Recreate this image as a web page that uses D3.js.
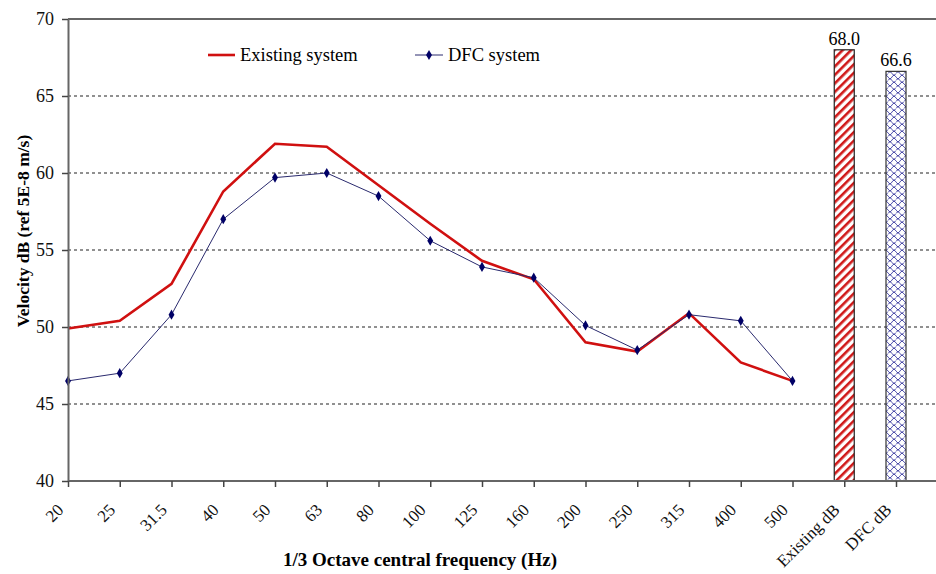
<!DOCTYPE html>
<html>
<head>
<meta charset="utf-8">
<script src="https://cdn.jsdelivr.net/npm/d3@7"></script>
<style>
  body { margin: 0; background: #fff; }
  text { font-family: "Liberation Serif", "Times New Roman", serif; }
</style>
</head>
<body>
<div id="chart"></div>
<script>
// categories along x (last two hold the overall bars)
var categories = ["20", "25", "31.5", "40", "50", "63", "80", "100", "125", "160", "200", "250", "315", "400", "500", "Existing dB", "DFC dB"];
var freqs = categories.slice(0, 15);
var existing = [49.9, 50.4, 52.8, 58.8, 61.9, 61.7, 59.2, 56.7, 54.3, 53.1, 49.0, 48.4, 50.9, 47.7, 46.5];
var dfc = [46.5, 47.0, 50.8, 57.0, 59.7, 60.0, 58.5, 55.6, 53.9, 53.2, 50.1, 48.5, 50.8, 50.4, 46.5];
var totalNames = ["Existing dB", "DFC dB"];
var totalValues = [68.0, 66.6];
var yTicks = [40, 45, 50, 55, 60, 65, 70];

var W = 936, H = 574;
var margin = { top: 19, right: 0, bottom: 93, left: 68 };

var svg = d3.select("#chart").append("svg")
  .attr("width", W)
  .attr("height", H);

// patterns for the two bars
var defs = svg.append("defs");
var hatch = defs.append("pattern")
  .attr("id", "hatchRed")
  .attr("patternUnits", "userSpaceOnUse")
  .attr("width", 6).attr("height", 6)
  .attr("patternTransform", "rotate(45)");
hatch.append("rect").attr("width", 6).attr("height", 6).attr("fill", "#fff");
hatch.append("rect").attr("x", 0).attr("width", 2.6).attr("height", 6).attr("fill", "#d01818");

var scales = defs.append("pattern")
  .attr("id", "scaleBlue")
  .attr("patternUnits", "userSpaceOnUse")
  .attr("width", 8).attr("height", 7);
scales.append("rect").attr("width", 8).attr("height", 7).attr("fill", "#fff");
scales.append("path")
  .attr("d", "M0,3.5 Q2,0 4,3.5 Q6,7 8,3.5 M-4,7 Q-2,3.5 0,7 M0,0 Q2,3.5 4,0 M4,7 Q6,3.5 8,7")
  .attr("fill", "none")
  .attr("stroke", "#3a3aa0")
  .attr("stroke-width", 0.9);

var x = d3.scalePoint()
  .domain(categories)
  .range([margin.left, 896]);

var y = d3.scaleLinear()
  .domain([40, 70])
  .range([H - margin.bottom, margin.top]);

// dotted gridlines
svg.append("g")
  .selectAll("line")
  .data(yTicks.filter(function (d) { return d > 40 && d < 70; }))
  .enter().append("line")
  .attr("x1", margin.left).attr("x2", W)
  .attr("y1", function (d) { return y(d); })
  .attr("y2", function (d) { return y(d); })
  .attr("stroke", "#222")
  .attr("stroke-width", 1.2)
  .attr("stroke-dasharray", "3,3");

// top border
svg.append("line")
  .attr("x1", margin.left).attr("x2", W)
  .attr("y1", y(70)).attr("y2", y(70))
  .attr("stroke", "#666").attr("stroke-width", 2);

// bars for the overall levels
var barW = 20;
svg.selectAll(".bar")
  .data(totalValues)
  .enter().append("rect")
  .attr("class", "bar")
  .attr("x", function (d, i) { return x(totalNames[i]) - barW / 2; })
  .attr("y", function (d) { return y(d); })
  .attr("width", barW)
  .attr("height", function (d) { return y(40) - y(d); })
  .attr("fill", function (d, i) { return i === 0 ? "url(#hatchRed)" : "url(#scaleBlue)"; })
  .attr("stroke", function (d, i) { return i === 0 ? "#222" : "#333"; })
  .attr("stroke-width", 1.2);

svg.selectAll(".barlabel")
  .data(totalValues)
  .enter().append("text")
  .attr("class", "barlabel")
  .attr("x", function (d, i) { return x(totalNames[i]); })
  .attr("y", function (d) { return y(d) - 5; })
  .attr("text-anchor", "middle")
  .attr("font-size", 18)
  .text(function (d) { return d.toFixed(1); });

// lines
var line = d3.line()
  .x(function (d, i) { return x(freqs[i]); })
  .y(function (d) { return y(d); });

svg.append("path")
  .datum(existing)
  .attr("d", line)
  .attr("fill", "none")
  .attr("stroke", "#d01010")
  .attr("stroke-width", 2.6);

svg.append("path")
  .datum(dfc)
  .attr("d", line)
  .attr("fill", "none")
  .attr("stroke", "#2a2a6e")
  .attr("stroke-width", 1);

var diamond = d3.symbol().type(d3.symbolDiamond).size(30);
svg.selectAll(".pt")
  .data(dfc)
  .enter().append("path")
  .attr("class", "pt")
  .attr("d", diamond)
  .attr("transform", function (d, i) { return "translate(" + x(freqs[i]) + "," + y(d) + ")"; })
  .attr("fill", "#000066");

// y axis
var yAxis = svg.append("g")
  .attr("transform", "translate(" + margin.left + ",0)")
  .call(d3.axisLeft(y).tickValues(yTicks).tickSize(6).tickSizeOuter(0).tickPadding(8));
yAxis.select(".domain").attr("stroke", "#666").attr("stroke-width", 2);
yAxis.selectAll(".tick line").attr("stroke", "#444").attr("stroke-width", 1.5);
yAxis.selectAll("text")
  .attr("font-size", 18)
  .attr("font-family", "Liberation Serif, serif")
  .attr("fill", "#111");

// x axis
var xAxis = svg.append("g")
  .attr("transform", "translate(0," + y(40) + ")")
  .call(d3.axisBottom(x).tickSize(6).tickSizeOuter(0));
xAxis.select(".domain").attr("d", "M" + margin.left + ",0H" + W).attr("stroke", "#666").attr("stroke-width", 2);
xAxis.selectAll(".tick line").attr("stroke", "#444").attr("stroke-width", 1.5);
xAxis.selectAll("text")
  .attr("font-size", 17)
  .attr("font-family", "Liberation Serif, serif")
  .attr("fill", "#111")
  .attr("text-anchor", "end")
  .attr("y", 0).attr("dy", 0)
  .attr("transform", "translate(-4,30) rotate(-45)");

// axis titles
svg.append("text")
  .attr("transform", "translate(29,231) rotate(-90)")
  .attr("text-anchor", "middle")
  .attr("font-size", 17.5)
  .attr("font-weight", "bold")
  .text("Velocity dB (ref 5E-8 m/s)");

svg.append("text")
  .attr("x", 420)
  .attr("y", 566)
  .attr("text-anchor", "middle")
  .attr("font-size", 19)
  .attr("font-weight", "bold")
  .text("1/3 Octave central frequency (Hz)");

// legend
var legend = svg.append("g");
legend.append("line")
  .attr("x1", 208).attr("x2", 235).attr("y1", 55).attr("y2", 55)
  .attr("stroke", "#d01010").attr("stroke-width", 2.6);
legend.append("text")
  .attr("x", 240).attr("y", 61)
  .attr("font-size", 18.5)
  .text("Existing system");
legend.append("line")
  .attr("x1", 415).attr("x2", 443).attr("y1", 55).attr("y2", 55)
  .attr("stroke", "#2a2a6e").attr("stroke-width", 1);
legend.append("path")
  .attr("d", diamond)
  .attr("transform", "translate(429,55)")
  .attr("fill", "#000066");
legend.append("text")
  .attr("x", 448).attr("y", 61)
  .attr("font-size", 18.5)
  .text("DFC system");
</script>
</body>
</html>
